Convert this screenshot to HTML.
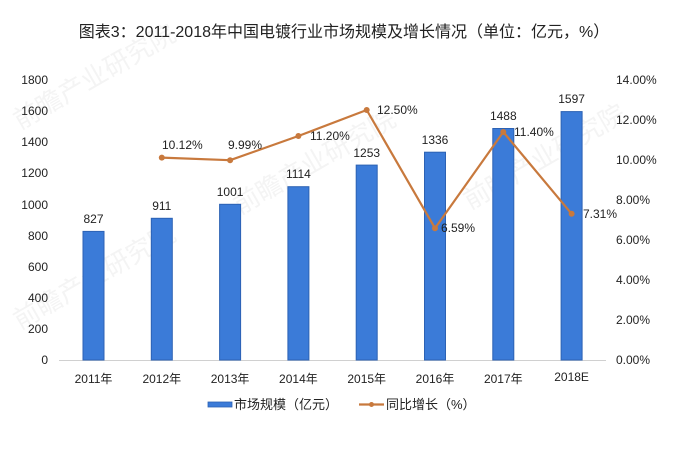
<!DOCTYPE html>
<html><head><meta charset="utf-8"><style>
html,body{margin:0;padding:0;background:#fff;}
svg{display:block;}
text{font-family:"Liberation Sans","Noto Sans CJK SC",sans-serif;}
</style></head><body>
<svg width="699" height="466" viewBox="0 0 699 466" xmlns="http://www.w3.org/2000/svg">
<rect width="699" height="466" fill="#fff"/>
<!-- watermarks -->
<g fill="#f4f4f4" font-size="26" font-family="Liberation Sans,Noto Sans CJK SC,sans-serif">
<text transform="translate(20,130) rotate(-30)">前瞻产业研究院</text>
<text transform="translate(20,330) rotate(-30)">前瞻产业研究院</text>
<text transform="translate(240,215) rotate(-30)">前瞻产业研究院</text>
<text transform="translate(470,210) rotate(-30)">前瞻产业研究院</text>
</g>
<text x="344" y="37" font-size="16" text-anchor="middle" fill="#222">图表3：2011-2018年中国电镀行业市场规模及增长情况（单位：亿元，%）</text>
<!-- left axis labels -->
<g font-size="12" fill="#222" text-anchor="end">
<text x="48" y="364">0</text>
<text x="48" y="333">200</text>
<text x="48" y="302">400</text>
<text x="48" y="271">600</text>
<text x="48" y="240">800</text>
<text x="48" y="209">1000</text>
<text x="48" y="177">1200</text>
<text x="48" y="146">1400</text>
<text x="48" y="115">1600</text>
<text x="48" y="84">1800</text>
</g>
<g font-size="12" fill="#222">
<text x="616" y="364">0.00%</text>
<text x="616" y="324">2.00%</text>
<text x="616" y="284">4.00%</text>
<text x="616" y="244">6.00%</text>
<text x="616" y="204">8.00%</text>
<text x="616" y="164">10.00%</text>
<text x="616" y="124">12.00%</text>
<text x="616" y="84">14.00%</text>
</g>
<line x1="59" y1="360.5" x2="606" y2="360.5" stroke="#d0d0d0" stroke-width="1"/>
<!-- bars -->
<g fill="#3b7bd8" stroke="#2c62b4" stroke-width="1">
<rect x="83" y="231.4" width="21" height="128.6"/>
<rect x="151.3" y="218.3" width="21" height="141.7"/>
<rect x="219.6" y="204.3" width="21" height="155.7"/>
<rect x="287.9" y="186.7" width="21" height="173.3"/>
<rect x="356.2" y="165.1" width="21" height="194.9"/>
<rect x="424.5" y="152.2" width="21" height="207.8"/>
<rect x="492.8" y="128.5" width="21" height="231.5"/>
<rect x="561.1" y="111.6" width="21" height="248.4"/>
</g>
<g font-size="12" fill="#222" text-anchor="middle">
<text x="93.5" y="223">827</text>
<text x="161.8" y="210">911</text>
<text x="230.1" y="196">1001</text>
<text x="298.4" y="178">1114</text>
<text x="366.7" y="157">1253</text>
<text x="435" y="144">1336</text>
<text x="503.3" y="120">1488</text>
<text x="571.6" y="103">1597</text>
</g>
<!-- line -->
<polyline points="161.8,157.6 230.1,160.2 298.4,136 366.7,110 435,228.2 503.3,132 571.6,213.8" fill="none" stroke="#c8793d" stroke-width="2.2" stroke-linejoin="round"/>
<g fill="#c8793d">
<circle cx="161.8" cy="157.6" r="3"/>
<circle cx="230.1" cy="160.2" r="3"/>
<circle cx="298.4" cy="136" r="3"/>
<circle cx="366.7" cy="110" r="3"/>
<circle cx="435" cy="228.2" r="3"/>
<circle cx="503.3" cy="132" r="3"/>
<circle cx="571.6" cy="213.8" r="3"/>
</g>
<g font-size="12" fill="#222">
<text x="162" y="149">10.12%</text>
<text x="228" y="149">9.99%</text>
<text x="310" y="140">11.20%</text>
<text x="377" y="114">12.50%</text>
<text x="441" y="232">6.59%</text>
<text x="514" y="136">11.40%</text>
<text x="583" y="218">7.31%</text>
</g>
<!-- category labels -->
<g font-size="12" fill="#222" text-anchor="middle">
<text x="93.5" y="383">2011年</text>
<text x="161.8" y="383">2012年</text>
<text x="230.1" y="383">2013年</text>
<text x="298.4" y="383">2014年</text>
<text x="366.7" y="383">2015年</text>
<text x="435" y="383">2016年</text>
<text x="503.3" y="383">2017年</text>
<text x="571.6" y="381">2018E</text>
</g>
<!-- legend -->
<rect x="208" y="402" width="24" height="5" fill="#3b7bd8" stroke="#2c62b4" stroke-width="0.8"/>
<text x="234" y="409" font-size="13" fill="#222">市场规模（亿元）</text>
<line x1="359" y1="404.5" x2="384" y2="404.5" stroke="#c8793d" stroke-width="2.2"/>
<circle cx="371.5" cy="404.5" r="2.5" fill="#c8793d"/>
<text x="386" y="409" font-size="13" fill="#222">同比增长（%）</text>
</svg>
</body></html>
